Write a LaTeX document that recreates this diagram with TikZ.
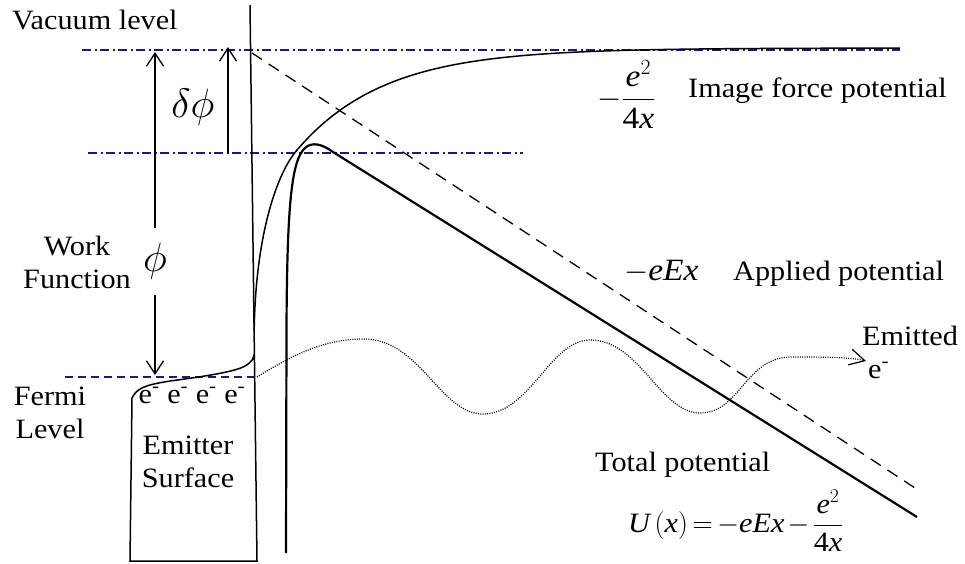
\RequirePackage{fix-cm}
\documentclass[tikz,border=0pt]{standalone}
\usepackage{amsmath}
\usepackage{fontspec}
\setmainfont[FakeStretch=1.08]{Liberation Serif}
\usepackage{tikz}
\usepackage{xcolor}
\usetikzlibrary{arrows.meta}
\definecolor{LevelNavy}{RGB}{28,28,112}
\newcommand{\mv}[1]{\textit{#1}}
\newcommand{\tightmath}{\medmuskip=2mu\relax\thickmuskip=3mu\relax}

\begin{document}
\begin{tikzpicture}[x=1pt, y=-1pt,
  every node/.style={font=\fontsize{28}{33}\selectfont, inner sep=0pt},
  bigsym/.style={font=\fontsize{41}{44}\selectfont},
  formula/.style={font={\fontsize{31}{35}\selectfont\tightmath}},
  level/.style={LevelNavy, line width=1.3pt, dash pattern=on 9pt off 3.5pt on 2pt off 3.5pt},
  fermi/.style={LevelNavy, line width=1.3pt, dash pattern=on 8pt off 5pt},
  wall/.style={line width=1.5pt},
  total/.style={line width=2.2pt},
  applied/.style={line width=1.3pt, dash pattern=on 12pt off 8pt},
  barb/.style={line width=1.3pt, -{Straight Barb[length=13pt, width=17pt]}},
  track/.style={line width=1.2pt, dash pattern=on 1pt off 1.3pt, -{Straight Barb[length=15pt, width=16pt]}}]
\useasboundingbox (0,0) rectangle (965,563);

% labels
\node[anchor=base west] (vac) at (12,29) {Vacuum level};
\node[anchor=north, align=center] (wf) at (77,236) {Work\\Function};
\node[bigsym, minimum height=67pt] (phiBig) at (155,261.5) {$\phi$};
\node[bigsym] (dphi) at (193,107) {$\delta\phi$};
\node[anchor=north, align=center] (fermiTxt) at (50,387) {Fermi\\Level};
\node[anchor=base] (elec) at (192,403) {e\textsuperscript{-} e\textsuperscript{-} e\textsuperscript{-} e\textsuperscript{-}};
\node[anchor=north, align=center] (emit) at (188,436) {Emitter\\Surface};
\node[formula, anchor=base west] (imgEq) at (597,107) {$-\dfrac{\mv{e}^{2}}{\mbox{4\mv{x}}}$};
\node[anchor=base west] (imgTxt) at (688,97) {Image force potential};
\node[formula, anchor=base west] (appEq) at (624,280) {$-\mv{eEx}$};
\node[anchor=base west] (appTxt) at (733,280) {Applied potential};
\node[anchor=base west] (emTxt) at (862,345) {Emitted};
\node[anchor=base west] (emE) at (868,378) {e\textsuperscript{-}};
\node[anchor=base west] (totTxt) at (595,471) {Total potential};
\node[anchor=base west, font={\fontsize{28}{33}\selectfont\tightmath}] (totEq) at (628,532) {$\mv{U}\,(\mv{x}) = -\mv{eEx} - \dfrac{\mv{e}^{2}}{\mbox{4\mv{x}}}$};

% energy levels
\draw[level] (82,50) -- (900,50);
\draw[level] (88,153) -- (523,153);
\draw[fermi] (65,377) -- (257,377);

% work function and barrier lowering
\coordinate (vacTop) at (155,52);
\coordinate (fermiBot) at (155,375);
\draw[barb] (phiBig.north) -- (vacTop);
\draw[barb] (phiBig.south) -- (fermiBot);
\coordinate (dTop) at (228,47);
\coordinate (dBot) at (228,153);
\draw[barb, {Straight Barb[length=13pt, width=17pt]}-] (dTop) -- (dBot);

% emitter
\draw[wall] (250,5) -- (257,561) -- (130,561) -- (132,398)
  .. controls (137,388) and (145,385) .. (170,381)
  .. controls (200,377) and (235,372) .. (245,366)
  .. controls (252,362) and (254,358) .. (254.4,353);

% image force potential
\draw[wall] (254.2,330) .. controls (255.5,240) and (275,175.7) .. (297,150)
  -- plot[domain=297:900, samples=90] (\x, {48+102*exp(-0.0115*(\x-297))});

% applied potential
\draw[applied] (252,53) -- (915,488);

% total potential
\draw[total] (286,553) -- (286.5,330) .. controls (287,200) and (292,160) .. (305,148)
  .. controls (312,141.5) and (322,144) .. (333,152) -- (917,517);

% emitted electron
\draw[track] (257,377) .. controls (300,350) and (330,339) .. (364,339)
  .. controls (420,339) and (440,414) .. (483,414)
  .. controls (530,414) and (550,340) .. (590,340)
  .. controls (640,340) and (660,413) .. (700,413)
  .. controls (740,413) and (745,358) .. (790,357)
  .. controls (820,357) and (850,357) .. (866,361);
\end{tikzpicture}
\end{document}
